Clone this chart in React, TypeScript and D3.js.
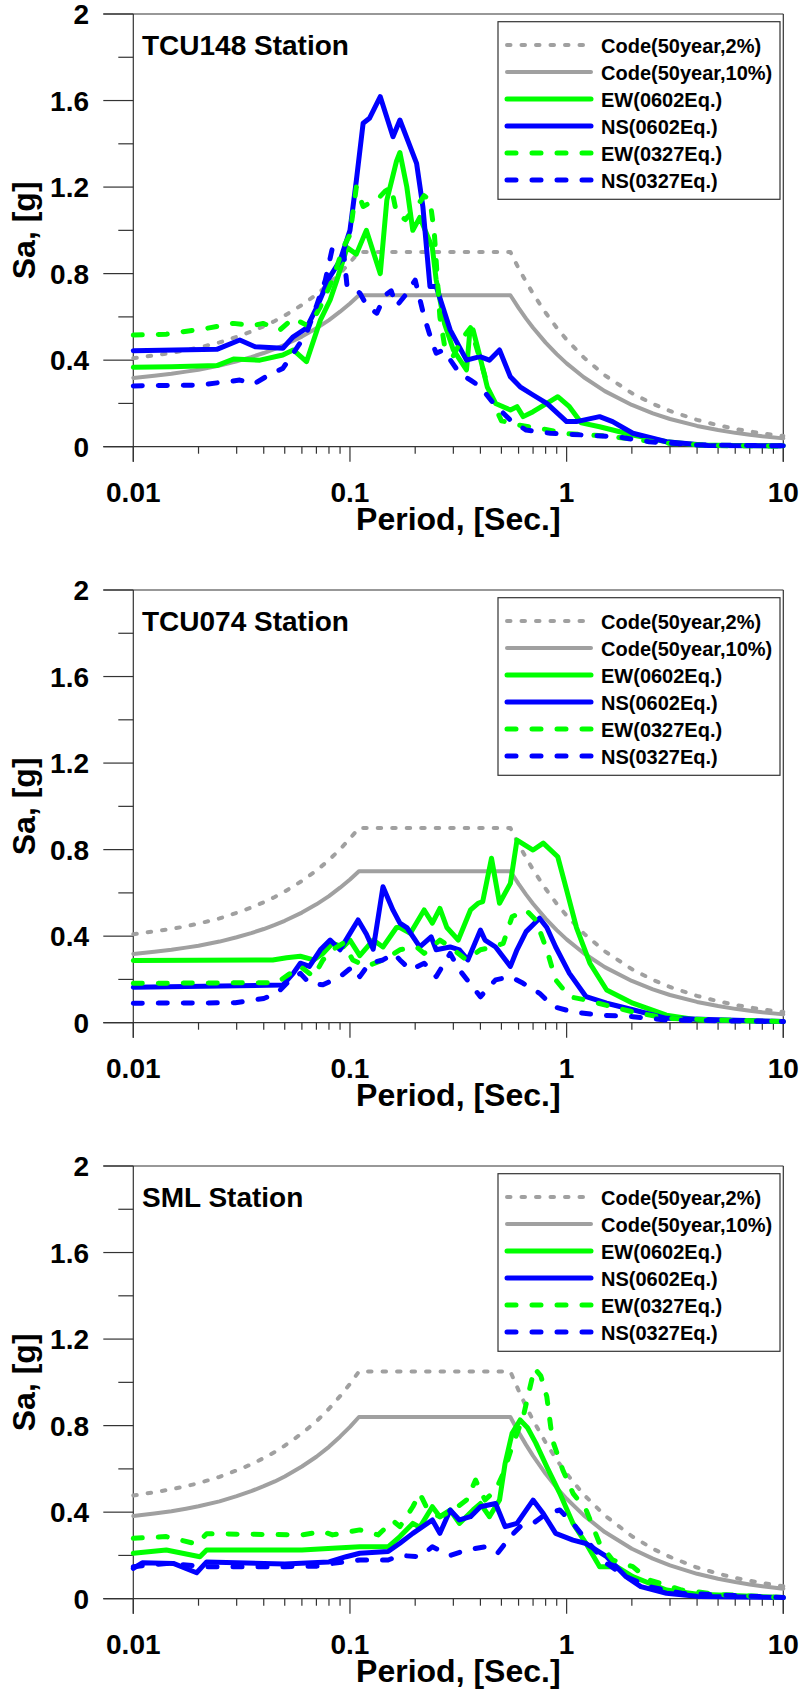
import React from 'react';
import * as d3 from 'd3';

type Pt = [number, number];

// ---------- axis / label data ----------
const yMajorTicks = [0, 0.4, 0.8, 1.2, 1.6, 2];
const yMajorLabels = ['0', '0.4', '0.8', '1.2', '1.6', '2'];
const yMinorTicks = [0.2, 0.6, 1.0, 1.4, 1.8];
const xMajorTicks = [0.01, 0.1, 1, 10];
const xMajorLabels = ['0.01', '0.1', '1', '10'];
const stationNames = ['TCU148 Station', 'TCU074 Station', 'SML Station'];
const legendLabels = [
  'Code(50year,2%)',
  'Code(50year,10%)',
  'EW(0602Eq.)',
  'NS(0602Eq.)',
  'EW(0327Eq.)',
  'NS(0327Eq.)',
];

// ---------- design code spectra ----------
const codePeriods = [0.01, 0.0125, 0.015, 0.0175, 0.02, 0.025, 0.03, 0.035, 0.04, 0.045, 0.05, 0.06, 0.07, 0.08, 0.09, 0.1, 0.11, 0.55, 0.6, 0.65, 0.7, 0.8, 0.9, 1, 1.2, 1.5, 2, 2.5, 3, 4, 5, 6, 7, 8, 10];
const codeTCU2 = [0.409, 0.422, 0.433, 0.446, 0.458, 0.482, 0.508, 0.532, 0.557, 0.581, 0.606, 0.655, 0.703, 0.752, 0.802, 0.851, 0.9, 0.9, 0.825, 0.762, 0.707, 0.619, 0.55, 0.495, 0.4125, 0.33, 0.2475, 0.198, 0.165, 0.124, 0.099, 0.0825, 0.0707, 0.0619, 0.0495];
const codeTCU10 = [0.318, 0.328, 0.337, 0.347, 0.356, 0.375, 0.395, 0.414, 0.433, 0.452, 0.471, 0.509, 0.547, 0.585, 0.624, 0.662, 0.7, 0.7, 0.642, 0.592, 0.55, 0.481, 0.428, 0.385, 0.321, 0.257, 0.193, 0.154, 0.128, 0.096, 0.077, 0.064, 0.055, 0.048, 0.0385];
const codeSML2 = [0.477, 0.492, 0.506, 0.52, 0.534, 0.563, 0.593, 0.621, 0.65, 0.678, 0.707, 0.764, 0.82, 0.878, 0.936, 0.993, 1.05, 1.05, 0.963, 0.888, 0.825, 0.722, 0.642, 0.578, 0.481, 0.385, 0.289, 0.231, 0.193, 0.144, 0.116, 0.096, 0.083, 0.072, 0.058];
const codeSML10 = [0.382, 0.394, 0.404, 0.416, 0.427, 0.45, 0.474, 0.497, 0.52, 0.542, 0.565, 0.611, 0.656, 0.702, 0.749, 0.794, 0.84, 0.84, 0.77, 0.711, 0.66, 0.577, 0.513, 0.462, 0.385, 0.308, 0.231, 0.185, 0.154, 0.115, 0.092, 0.077, 0.066, 0.058, 0.046];

// ---------- TCU148 ----------
const tcu148EW0602: Pt[] = [
  [0.01, 0.367], [0.015, 0.37], [0.0243, 0.375], [0.029, 0.405], [0.0384, 0.40], [0.049, 0.424], [0.0547, 0.447],
  [0.063, 0.393], [0.073, 0.585], [0.081, 0.678], [0.087, 0.77], [0.097, 0.92], [0.107, 0.89], [0.119, 1.0],
  [0.138, 0.80], [0.148, 1.14], [0.164, 1.32], [0.17, 1.36], [0.183, 1.2], [0.195, 1.0], [0.21, 1.06], [0.24, 0.92],
  [0.25, 0.77], [0.273, 0.57], [0.30, 0.447], [0.345, 0.355], [0.358, 0.54], [0.37, 0.54], [0.398, 0.416],
  [0.43, 0.277], [0.47, 0.2], [0.55, 0.17], [0.59, 0.185], [0.63, 0.139], [0.70, 0.162], [0.81, 0.2], [0.91, 0.231],
  [1.03, 0.185], [1.17, 0.11], [1.42, 0.092], [2.02, 0.054], [2.89, 0.023], [4.1, 0.008], [6, 0.005], [10, 0.004],
];
const tcu148NS0602: Pt[] = [
  [0.01, 0.444], [0.0243, 0.45], [0.031, 0.493], [0.0365, 0.462], [0.049, 0.455], [0.0547, 0.508], [0.063, 0.548],
  [0.07, 0.64], [0.075, 0.71], [0.079, 0.77], [0.09, 0.86], [0.1, 1.0], [0.107, 1.23], [0.115, 1.495], [0.123, 1.518],
  [0.138, 1.618], [0.158, 1.433], [0.17, 1.51], [0.203, 1.31], [0.217, 1.11], [0.234, 0.74], [0.25, 0.74], [0.29, 0.54],
  [0.345, 0.40], [0.398, 0.416], [0.44, 0.40], [0.49, 0.447], [0.55, 0.323], [0.61, 0.277], [0.70, 0.239], [0.81, 0.20],
  [1.0, 0.116], [1.11, 0.116], [1.42, 0.139], [1.63, 0.116], [2.02, 0.062], [2.89, 0.023], [4.5, 0.006], [10, 0.004],
];
const tcu148EW0327: Pt[] = [
  [0.01, 0.516], [0.0142, 0.52], [0.0218, 0.547], [0.029, 0.57], [0.0357, 0.56], [0.0397, 0.57], [0.0475, 0.54],
  [0.0547, 0.594], [0.065, 0.555], [0.073, 0.647], [0.083, 0.77], [0.093, 0.92], [0.1, 0.98], [0.107, 1.2], [0.115, 1.11],
  [0.125, 1.13], [0.133, 1.14], [0.145, 1.18], [0.155, 1.2], [0.164, 1.08], [0.18, 1.05], [0.2, 1.1], [0.22, 1.16],
  [0.234, 1.14], [0.245, 0.99], [0.26, 0.6], [0.275, 0.45], [0.3, 0.42], [0.33, 0.5], [0.36, 0.55], [0.4, 0.4],
  [0.45, 0.22], [0.5, 0.12], [0.6, 0.1], [0.8, 0.08], [1, 0.06], [1.5, 0.05], [2, 0.035], [3, 0.015], [5, 0.005], [10, 0.003],
];
const tcu148NS0327: Pt[] = [
  [0.01, 0.281], [0.0203, 0.285], [0.031, 0.308], [0.036, 0.29], [0.042, 0.33], [0.049, 0.362], [0.0547, 0.432],
  [0.063, 0.524], [0.07, 0.65], [0.077, 0.77], [0.083, 0.92], [0.093, 0.92], [0.097, 0.74], [0.105, 0.73], [0.111, 0.71],
  [0.12, 0.65], [0.133, 0.617], [0.145, 0.70], [0.155, 0.72], [0.164, 0.65], [0.18, 0.7], [0.2, 0.77], [0.22, 0.6],
  [0.24, 0.48], [0.25, 0.432], [0.27, 0.447], [0.32, 0.34], [0.36, 0.308], [0.40, 0.277], [0.46, 0.20], [0.55, 0.123],
  [0.65, 0.077], [0.84, 0.062], [1.2, 0.054], [1.7, 0.046], [2.4, 0.023], [4, 0.008], [10, 0.004],
];

// ---------- TCU074 ----------
const tcu074EW0602: Pt[] = [
  [0.01, 0.287], [0.044, 0.29], [0.051, 0.30], [0.059, 0.307], [0.068, 0.29], [0.075, 0.32], [0.083, 0.367],
  [0.093, 0.35], [0.1, 0.382], [0.111, 0.31], [0.128, 0.382], [0.142, 0.35], [0.164, 0.44], [0.17, 0.44], [0.19, 0.413],
  [0.22, 0.521], [0.24, 0.46], [0.26, 0.528], [0.28, 0.44], [0.316, 0.382], [0.36, 0.521], [0.39, 0.552], [0.41, 0.56],
  [0.45, 0.76], [0.49, 0.552], [0.55, 0.644], [0.59, 0.844], [0.70, 0.798], [0.78, 0.83], [0.91, 0.767], [1.0, 0.613],
  [1.11, 0.44], [1.28, 0.275], [1.53, 0.151], [2.02, 0.09], [2.89, 0.035], [4.1, 0.012], [10, 0.005],
];
const tcu074NS0602: Pt[] = [
  [0.01, 0.164], [0.049, 0.174], [0.0547, 0.228], [0.059, 0.275], [0.065, 0.26], [0.073, 0.337], [0.081, 0.382],
  [0.09, 0.337], [0.1, 0.413], [0.109, 0.475], [0.119, 0.41], [0.128, 0.34], [0.142, 0.628], [0.158, 0.52], [0.17, 0.46],
  [0.183, 0.44], [0.21, 0.35], [0.237, 0.397], [0.25, 0.337], [0.29, 0.35], [0.32, 0.337], [0.35, 0.29], [0.40, 0.428],
  [0.42, 0.382], [0.47, 0.35], [0.55, 0.26], [0.59, 0.337], [0.65, 0.421], [0.75, 0.483], [0.81, 0.44], [0.89, 0.35],
  [1.03, 0.228], [1.23, 0.12], [1.53, 0.09], [2.02, 0.06], [2.89, 0.02], [10, 0.005],
];
const tcu074EW0327: Pt[] = [
  [0.01, 0.182], [0.046, 0.185], [0.053, 0.228], [0.059, 0.26], [0.068, 0.213], [0.075, 0.29], [0.083, 0.337],
  [0.093, 0.367], [0.103, 0.29], [0.119, 0.26], [0.142, 0.29], [0.16, 0.32], [0.17, 0.337], [0.203, 0.35], [0.22, 0.32],
  [0.26, 0.382], [0.29, 0.35], [0.345, 0.29], [0.40, 0.337], [0.46, 0.35], [0.51, 0.367], [0.56, 0.49], [0.65, 0.52],
  [0.72, 0.475], [0.81, 0.337], [0.89, 0.198], [1.03, 0.12], [1.23, 0.105], [1.53, 0.08], [2.02, 0.05], [2.89, 0.02],
  [10, 0.005],
];
const tcu074NS0327: Pt[] = [
  [0.01, 0.09], [0.0296, 0.092], [0.04, 0.112], [0.046, 0.136], [0.053, 0.198], [0.059, 0.228], [0.065, 0.182],
  [0.075, 0.175], [0.09, 0.213], [0.103, 0.26], [0.111, 0.213], [0.123, 0.275], [0.142, 0.29], [0.16, 0.32], [0.17, 0.29],
  [0.19, 0.244], [0.22, 0.275], [0.25, 0.213], [0.29, 0.32], [0.32, 0.244], [0.40, 0.12], [0.47, 0.198], [0.55, 0.213],
  [0.63, 0.182], [0.75, 0.136], [0.87, 0.074], [1.07, 0.05], [1.42, 0.035], [2.02, 0.028], [2.89, 0.012], [10, 0.005],
];

// ---------- SML ----------
const smlEW0602: Pt[] = [
  [0.01, 0.21], [0.0142, 0.225], [0.0203, 0.194], [0.0218, 0.225], [0.06, 0.225], [0.083, 0.233], [0.111, 0.24],
  [0.15, 0.24], [0.17, 0.287], [0.195, 0.348], [0.21, 0.33], [0.24, 0.425], [0.26, 0.379], [0.29, 0.41], [0.32, 0.348],
  [0.37, 0.41], [0.40, 0.44], [0.44, 0.379], [0.49, 0.456], [0.52, 0.625], [0.56, 0.764], [0.61, 0.826], [0.66, 0.79],
  [0.72, 0.72], [0.81, 0.61], [0.93, 0.487], [1.07, 0.348], [1.23, 0.255], [1.42, 0.148], [1.7, 0.148], [2.02, 0.102],
  [2.89, 0.04], [4.1, 0.02], [10, 0.005],
];
const smlNS0602: Pt[] = [
  [0.01, 0.14], [0.011, 0.166], [0.0153, 0.163], [0.0196, 0.12], [0.0218, 0.17], [0.05, 0.16], [0.08, 0.17],
  [0.096, 0.194], [0.111, 0.21], [0.15, 0.218], [0.17, 0.256], [0.195, 0.302], [0.24, 0.364], [0.26, 0.302], [0.29, 0.41],
  [0.32, 0.364], [0.36, 0.379], [0.40, 0.425], [0.47, 0.44], [0.52, 0.333], [0.59, 0.348], [0.70, 0.456], [0.78, 0.394],
  [0.89, 0.302], [1.07, 0.271], [1.23, 0.255], [1.53, 0.194], [1.88, 0.102], [2.2, 0.056], [2.89, 0.025], [4.1, 0.01],
  [10, 0.005],
];
const smlEW0327: Pt[] = [
  [0.01, 0.279], [0.0142, 0.287], [0.0196, 0.253], [0.0218, 0.3], [0.06, 0.295], [0.075, 0.31], [0.083, 0.295],
  [0.111, 0.318], [0.135, 0.295], [0.158, 0.36], [0.17, 0.333], [0.195, 0.425], [0.21, 0.487], [0.225, 0.425],
  [0.24, 0.394], [0.26, 0.379], [0.30, 0.41], [0.345, 0.456], [0.38, 0.548], [0.42, 0.456], [0.47, 0.502], [0.51, 0.579],
  [0.56, 0.703], [0.63, 0.84], [0.71, 1.065], [0.76, 1.03], [0.81, 0.934], [0.86, 0.733], [0.96, 0.595], [1.07, 0.487],
  [1.23, 0.41], [1.42, 0.255], [1.63, 0.179], [2.02, 0.148], [2.4, 0.087], [3.4, 0.04], [5, 0.02], [10, 0.005],
];
const smlNS0327: Pt[] = [
  [0.01, 0.148], [0.0142, 0.163], [0.0218, 0.148], [0.05, 0.148], [0.07, 0.15], [0.083, 0.163], [0.111, 0.179],
  [0.15, 0.179], [0.17, 0.2], [0.21, 0.194], [0.24, 0.24], [0.29, 0.2], [0.345, 0.225], [0.42, 0.24], [0.48, 0.21],
  [0.55, 0.287], [0.61, 0.333], [0.70, 0.348], [0.81, 0.394], [0.93, 0.41], [1.07, 0.348], [1.23, 0.271], [1.53, 0.163],
  [1.88, 0.102], [2.4, 0.056], [3.4, 0.025], [10, 0.005],
];

// ---------- styling ----------
const GREEN = '#00ff00';
const BLUE = '#0000ff';
const GRAY = '#a0a0a0';
const FONT = '"Liberation Sans", Arial, Helvetica, sans-serif';

type SeriesStyle = { color: string; width: number; dash?: string };
const seriesStyles: SeriesStyle[] = [
  { color: GRAY, width: 4, dash: '3.5 11' },
  { color: GRAY, width: 4 },
  { color: GREEN, width: 5 },
  { color: BLUE, width: 5 },
  { color: GREEN, width: 5, dash: '9 16' },
  { color: BLUE, width: 5, dash: '9 16' },
];

const PANEL_H = 576;
const X0 = 133.3;
const X1 = 783.3;
const Y0 = 446.7;
const Y1 = 14;

function zip(t: number[], v: number[]): Pt[] {
  return t.map((p, i) => [p, v[i]] as Pt);
}

const panels: { name: string; series: Pt[][] }[] = [
  {
    name: stationNames[0],
    series: [zip(codePeriods, codeTCU2), zip(codePeriods, codeTCU10), tcu148EW0602, tcu148NS0602, tcu148EW0327, tcu148NS0327],
  },
  {
    name: stationNames[1],
    series: [zip(codePeriods, codeTCU2), zip(codePeriods, codeTCU10), tcu074EW0602, tcu074NS0602, tcu074EW0327, tcu074NS0327],
  },
  {
    name: stationNames[2],
    series: [zip(codePeriods, codeSML2), zip(codePeriods, codeSML10), smlEW0602, smlNS0602, smlEW0327, smlNS0327],
  },
];

function Panel({ index, name, series }: { index: number; name: string; series: Pt[][] }) {
  const x = d3.scaleLog().domain([0.01, 10]).range([X0, X1]);
  const y = d3.scaleLinear().domain([0, 2]).range([Y0, Y1]);
  const line = d3
    .line<Pt>()
    .x((d) => x(d[0]))
    .y((d) => y(d[1]));
  const allXTicks = x.ticks();
  const minorX = allXTicks.filter((t) => !xMajorTicks.some((m) => Math.abs(m - t) / m < 1e-6));
  const axisColor = '#333';
  const legendX = 498;
  const legendY = 21.7;
  const rowH = 27;

  return (
    <g transform={`translate(0, ${index * PANEL_H})`}>
      {/* frame */}
      <line x1={X0} x2={X0} y1={Y1} y2={Y0 + 15} stroke={axisColor} strokeWidth={1.2} />
      <line x1={X1} x2={X1} y1={Y1} y2={Y0 + 15} stroke={axisColor} strokeWidth={1.2} />
      <line x1={X0 - 30} x2={X1} y1={Y1} y2={Y1} stroke={axisColor} strokeWidth={1.2} />
      <line x1={X0 - 30} x2={X1} y1={Y0} y2={Y0} stroke={axisColor} strokeWidth={1.2} />
      {/* y ticks */}
      {yMajorTicks.map((t, i) => (
        <g key={'ym' + i}>
          <line x1={X0 - 30} x2={X0} y1={y(t)} y2={y(t)} stroke={axisColor} strokeWidth={1.2} />
          <text x={89} y={y(t) + 10} textAnchor="end" fontFamily={FONT} fontWeight="bold" fontSize={28} fill="#000">
            {yMajorLabels[i]}
          </text>
        </g>
      ))}
      {yMinorTicks.map((t, i) => (
        <line key={'yn' + i} x1={X0 - 15} x2={X0} y1={y(t)} y2={y(t)} stroke={axisColor} strokeWidth={1.2} />
      ))}
      {/* x ticks */}
      {xMajorTicks.map((t, i) => (
        <g key={'xm' + i}>
          <line x1={x(t)} x2={x(t)} y1={Y0} y2={Y0 + 15} stroke={axisColor} strokeWidth={1.2} />
          <text x={x(t)} y={502} textAnchor="middle" fontFamily={FONT} fontWeight="bold" fontSize={28} fill="#000">
            {xMajorLabels[i]}
          </text>
        </g>
      ))}
      {minorX.map((t, i) => (
        <line key={'xn' + i} x1={x(t)} x2={x(t)} y1={Y0} y2={Y0 + 7} stroke={axisColor} strokeWidth={1.2} />
      ))}
      {/* axis titles */}
      <text x={(X0 + X1) / 2} y={530} textAnchor="middle" fontFamily={FONT} fontWeight="bold" fontSize={32} fill="#000">
        Period, [Sec.]
      </text>
      <text
        transform={`translate(35, ${(Y0 + Y1) / 2}) rotate(-90)`}
        textAnchor="middle"
        fontFamily={FONT}
        fontWeight="bold"
        fontSize={32}
        fill="#000"
      >
        Sa, [g]
      </text>
      {/* data */}
      {series.map((s, i) => (
        <path
          key={'s' + i}
          d={line(s) || ''}
          fill="none"
          stroke={seriesStyles[i].color}
          strokeWidth={seriesStyles[i].width}
          strokeDasharray={seriesStyles[i].dash}
          strokeLinecap="round"
          strokeLinejoin="round"
        />
      ))}
      {/* station label */}
      <text x={142} y={55} fontFamily={FONT} fontWeight="bold" fontSize={28} fill="#000">
        {name}
      </text>
      {/* legend */}
      <rect x={legendX} y={legendY} width={282} height={177.6} fill="#fff" stroke="#333" strokeWidth={1.2} />
      {legendLabels.map((lab, i) => {
        const ly = 45 + i * rowH;
        const st = seriesStyles[i];
        return (
          <g key={'lg' + i}>
            <line
              x1={507}
              x2={591}
              y1={ly}
              y2={ly}
              stroke={st.color}
              strokeWidth={st.width}
              strokeDasharray={st.dash}
              strokeLinecap="round"
            />
            <text x={601} y={ly + 8} fontFamily={FONT} fontWeight="bold" fontSize={20} fill="#000">
              {lab}
            </text>
          </g>
        );
      })}
    </g>
  );
}

export default function App() {
  return (
    <svg
      width={802}
      height={1701}
      viewBox="0 0 802 1701"
      style={{ position: 'absolute', left: 0, top: 0, display: 'block', background: '#fff' }}
    >
      <rect x={0} y={0} width={802} height={1701} fill="#fff" />
      {panels.map((p, i) => (
        <Panel key={i} index={i} name={p.name} series={p.series} />
      ))}
    </svg>
  );
}
